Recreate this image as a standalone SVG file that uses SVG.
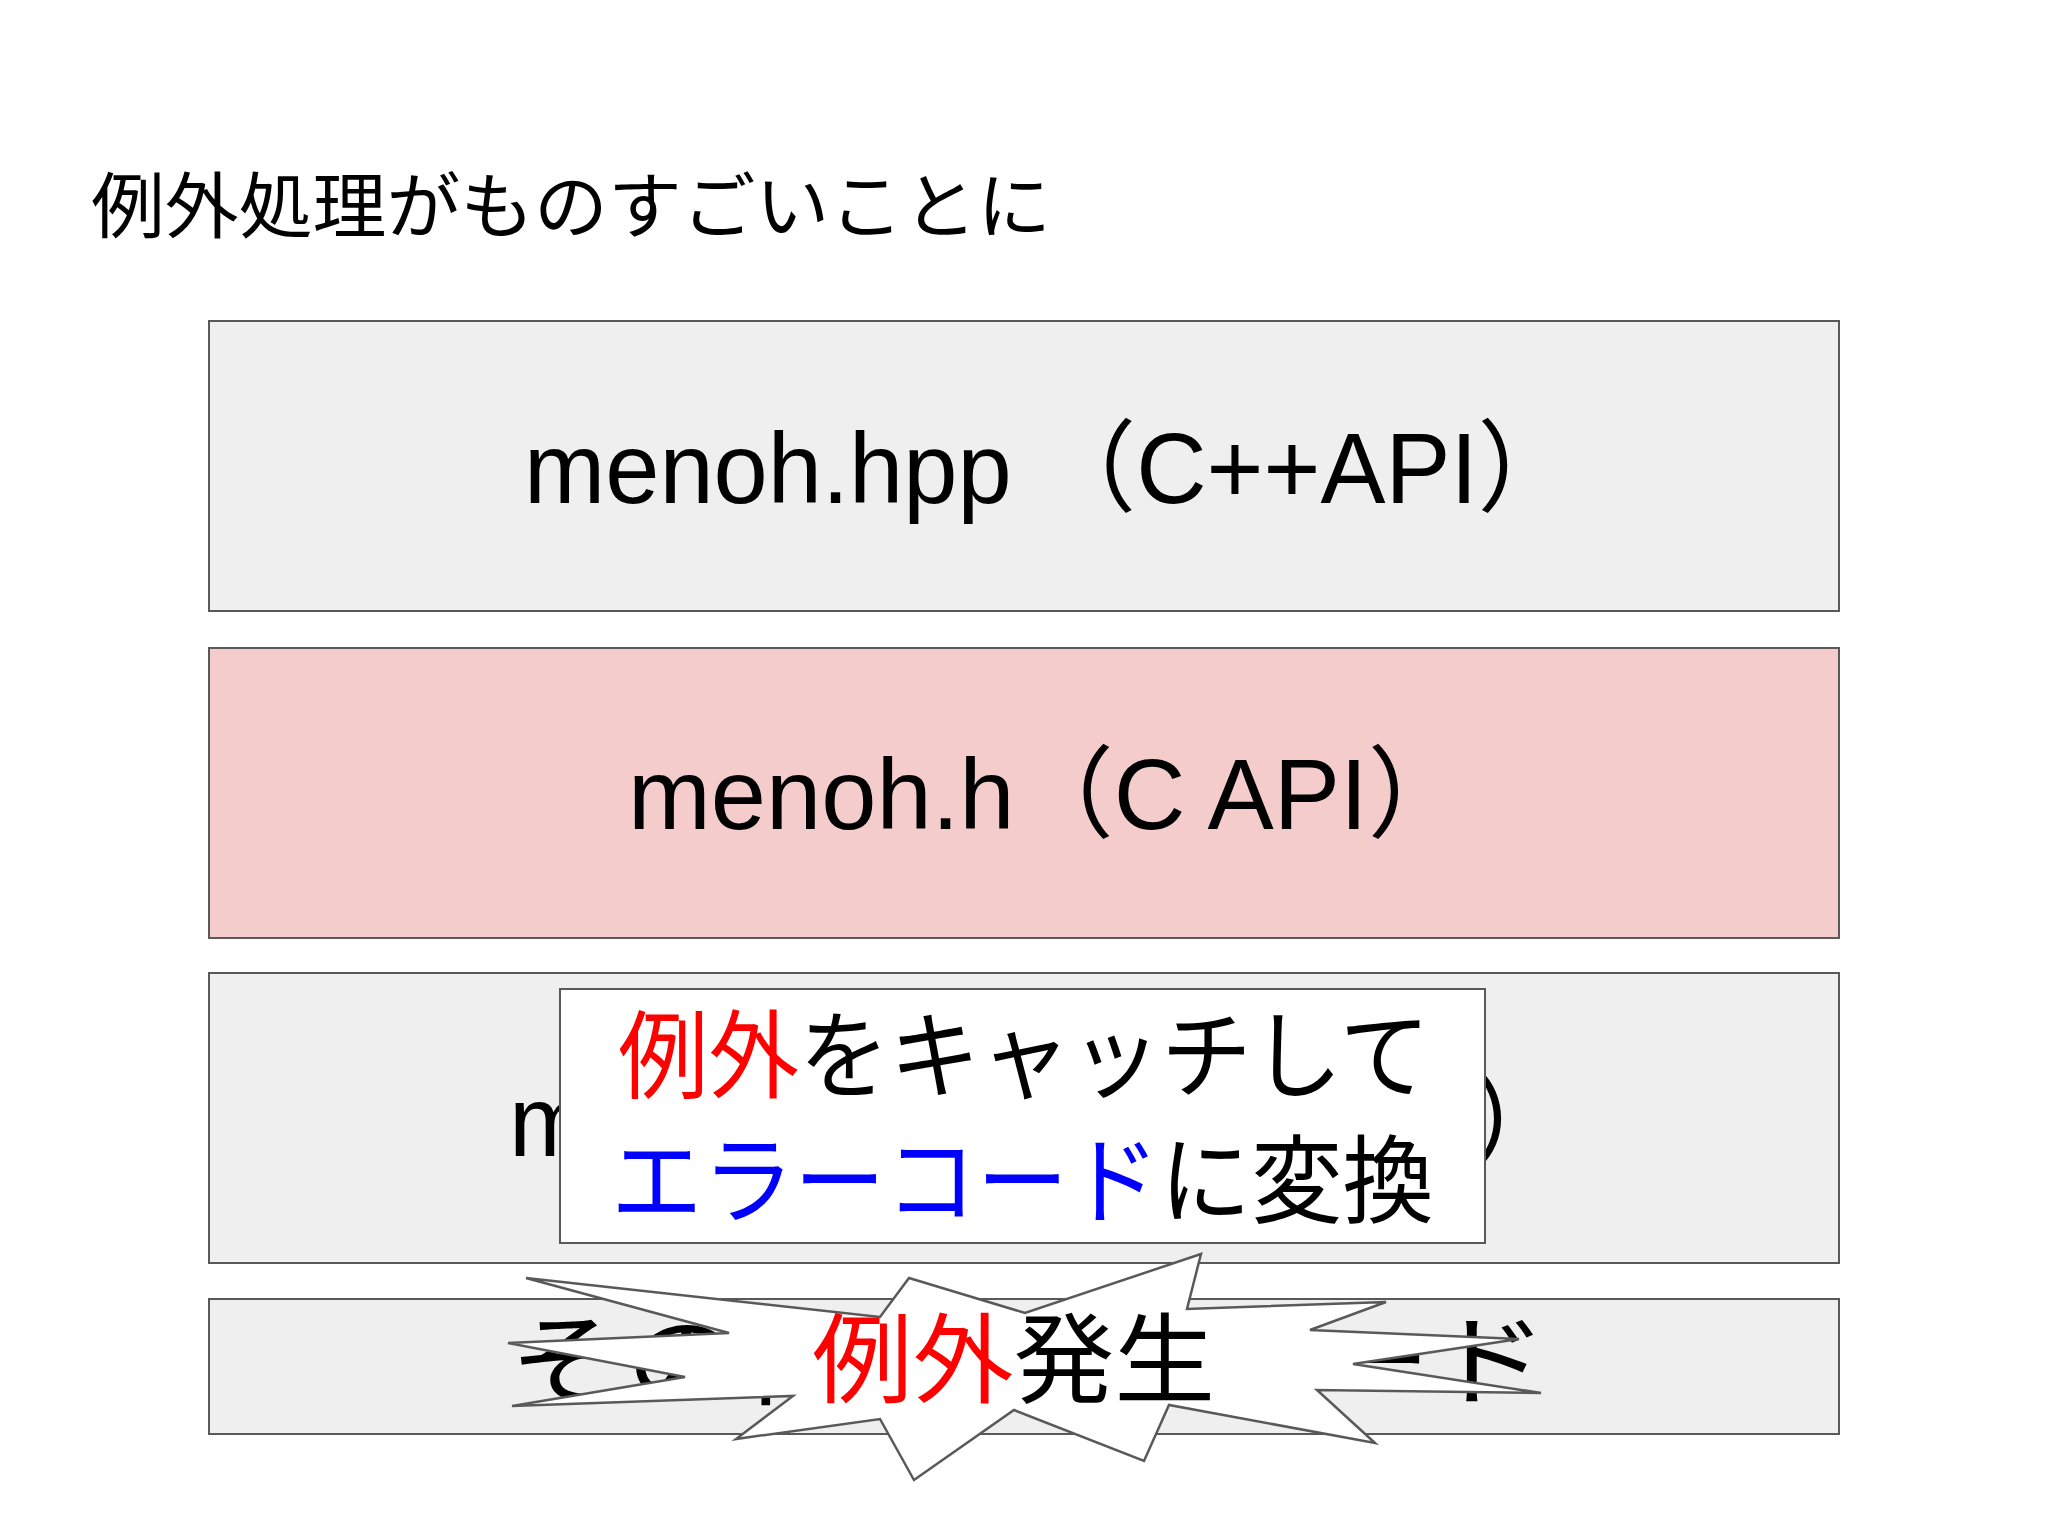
<svg xmlns="http://www.w3.org/2000/svg" width="2048" height="1536" viewBox="0 0 2048 1536">
<style>
.box{fill:#efefef;stroke:#595959;stroke-width:2}
.t{font-family:"Liberation Sans","Noto Sans CJK JP",sans-serif;fill:#000}
.big{font-size:100px}
</style>
<rect width="2048" height="1536" fill="#fff"/>
<text class="t" x="91" y="232" font-size="72" textLength="960" lengthAdjust="spacingAndGlyphs">例外処理がものすごいことに</text>
<g id="n1"><rect class="box" x="209" y="321" width="1630" height="290"/><text class="t big" x="524" y="503" textLength="1051" lengthAdjust="spacingAndGlyphs">menoh.hpp （C++API）</text></g>
<g id="n2"><rect class="box" x="209" y="648" width="1630" height="290" style="fill:#f4cccc"/><text class="t big" x="628" y="829" textLength="839" lengthAdjust="spacingAndGlyphs">menoh.h（C API）</text></g>
<g id="n3"><rect class="box" x="209" y="973" width="1630" height="290"/><text class="t big" x="509" y="1156" textLength="1060" lengthAdjust="spacingAndGlyphs">menoh.cpp（C++実装）</text></g>
<g id="n4"><rect class="box" x="209" y="1299" width="1630" height="135"/><text class="t big" x="509" y="1397" textLength="1039" lengthAdjust="spacingAndGlyphs">その他のC++コード</text></g>
<g id="popup"><rect x="560" y="989" width="925" height="254" fill="#fff" stroke="#595959" stroke-width="2"/>
<text class="t" x="618" y="1090" font-size="96" textLength="812" lengthAdjust="spacingAndGlyphs"><tspan fill="#f00">例外</tspan>をキャッチして</text>
<text class="t" x="611" y="1215" font-size="96" textLength="823" lengthAdjust="spacingAndGlyphs"><tspan fill="#00f">エラーコード</tspan>に変換</text></g>
<g id="burst"><polygon points="526,1278 880,1317 909,1278 1025,1313 1201,1254 1187,1309 1386,1302 1310,1330 1519,1339 1353,1364 1541,1393 1317,1390 1375,1443 1169,1405 1144,1461 1014,1410 914,1480 880,1419 736,1439 793,1396 512,1406 685,1377 508,1343 729,1333" fill="#fff" stroke="#595959" stroke-width="2.5"/>
<text class="t" x="812" y="1395" font-size="98" textLength="403" lengthAdjust="spacingAndGlyphs"><tspan fill="#f00">例外</tspan>発生</text></g>
<g id="connectors"/>
</svg>
